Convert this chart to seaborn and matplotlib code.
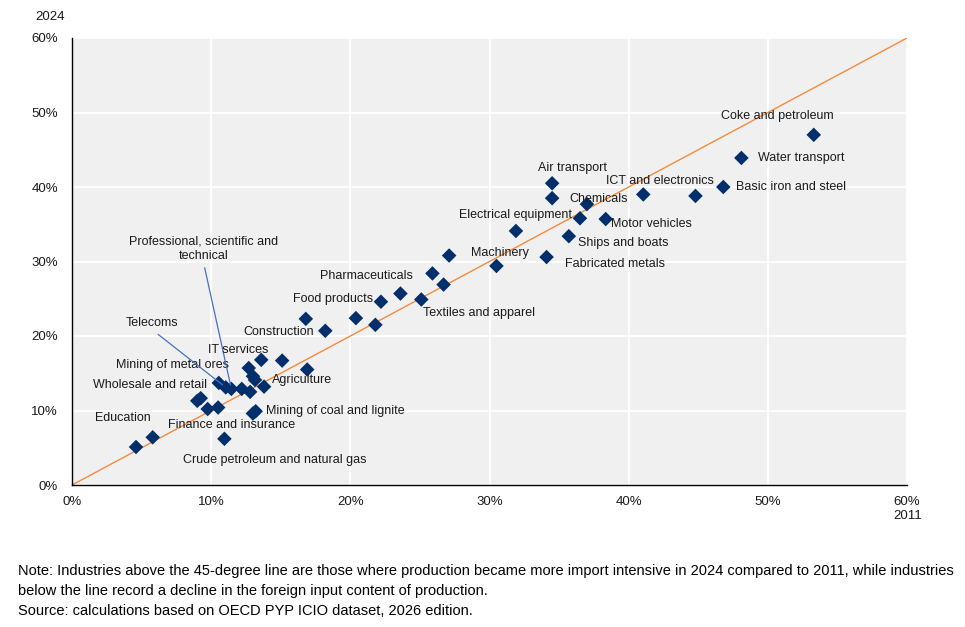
import matplotlib
matplotlib.use("Agg")
import matplotlib.pyplot as plt
import seaborn as sns
import pandas as pd
from matplotlib.ticker import PercentFormatter

# foreign input content of production, % (2011 vs 2024)
x2011 = [4.6, 5.8, 9.0, 9.25, 9.75, 10.5, 10.55, 11.05, 11.45, 12.2,
         12.8, 12.7, 13.0, 13.15, 13.6, 13.8, 15.1, 16.9, 13.0, 13.2,
         10.95, 16.8, 18.2, 20.4, 21.8, 22.2, 23.6, 25.1, 25.9, 26.7,
         27.1, 30.5, 31.9, 34.1, 34.5, 34.5, 35.7, 36.5, 37.0, 38.35,
         41.05, 44.8, 46.8, 48.1, 53.3]
y2024 = [5.1, 6.4, 11.3, 11.65, 10.2, 10.4, 13.7, 13.1, 12.9, 12.9,
         12.5, 15.7, 14.6, 14.1, 16.8, 13.2, 16.7, 15.5, 9.6, 9.9,
         6.2, 22.3, 20.7, 22.4, 21.5, 24.6, 25.7, 24.9, 28.4, 26.9,
         30.8, 29.4, 34.1, 30.6, 40.5, 38.5, 33.4, 35.8, 37.7, 35.7,
         39.0, 38.8, 40.0, 43.9, 47.0]
labels = ["Education", "", "Wholesale and retail", "", "", "Finance and insurance",
          "Mining of metal ores", "Telecoms", "Professional, scientific and\ntechnical", "",
          "", "", "", "", "IT services", "Agriculture", "", "", "Mining of coal and lignite", "",
          "Crude petroleum and natural gas", "", "Construction", "", "", "Food products", "",
          "Textiles and apparel", "Pharmaceuticals", "",
          "", "Machinery", "", "Fabricated metals", "Air transport", "", "Ships and boats",
          "Electrical equipment", "Chemicals", "Motor vehicles",
          "ICT and electronics", "", "Basic iron and steel", "Water transport", "Coke and petroleum"]

# label placement in pixels relative to the marker: dx, dy, ha, leader line
placement = {
    "Education": (-13, 29, "center", False),
    "Wholesale and retail": (10, 16, "right", False),
    "Finance and insurance": (13, -17, "center", False),
    "Mining of metal ores": (-46, 18, "center", False),
    "Telecoms": (-74, 64, "center", True),
    "Professional, scientific and\ntechnical": (-28, 140, "center", True),
    "IT services": (-23, 10, "center", False),
    "Agriculture": (8, 7, "left", False),
    "Mining of coal and lignite": (13, 2, "left", False),
    "Crude petroleum and natural gas": (50, -21, "center", False),
    "Construction": (-11, -1, "right", False),
    "Food products": (-8, 3, "right", False),
    "Textiles and apparel": (2, -14, "left", False),
    "Pharmaceuticals": (-20, -3, "right", False),
    "Machinery": (3, 13, "center", False),
    "Fabricated metals": (18, -7, "left", False),
    "Air transport": (20, 15, "center", False),
    "Ships and boats": (9, -7, "left", False),
    "Electrical equipment": (-8, 3, "right", False),
    "Chemicals": (12, 5, "center", False),
    "Motor vehicles": (5, -5, "left", False),
    "ICT and electronics": (17, 13, "center", False),
    "Basic iron and steel": (13, 0, "left", False),
    "Water transport": (17, 0, "left", False),
    "Coke and petroleum": (-36, 19, "center", False),
}

note = ("Note: Industries above the 45-degree line are those where production became more import intensive in 2024 compared to 2011, while industries\n"
        "below the line record a decline in the foreign input content of production.\n"
        "Source: calculations based on OECD PYP ICIO dataset, 2026 edition.")

df = pd.DataFrame({"x": x2011, "y": y2024, "label": labels})

sns.set_style("white")
plt.rcParams["font.family"] = ["Liberation Sans Narrow", "Liberation Sans", "DejaVu Sans"]
plt.rcParams["font.size"] = 9.5

fig = plt.figure(figsize=(9.65, 6.27), dpi=100)
ax = fig.add_axes([72 / 965, 1 - 485 / 627, 835 / 965, 447 / 627])
ax.set_facecolor("#F0F0F0")

ax.plot([0, 60], [0, 60], color="#F58A3C", lw=1.0, zorder=2)
sns.scatterplot(data=df, x="x", y="y", marker="D", s=55, color="#002F6C",
                edgecolor="none", ax=ax, zorder=3)

for _, r in df.iterrows():
    if not r["label"]:
        continue
    dx, dy, ha, lead = placement[r["label"]]
    if lead:
        ax.annotate(r["label"], (r["x"], r["y"]), xytext=(dx, dy), textcoords="offset pixels",
                    ha=ha, va="center", fontsize=9, color="#1a1a1a", zorder=4,
                    arrowprops=dict(arrowstyle="-", color="#4472C4", lw=0.9,
                                    shrinkA=2, shrinkB=3, relpos=(0.5, 0)))
    else:
        ax.annotate(r["label"], (r["x"], r["y"]), xytext=(dx, dy), textcoords="offset pixels",
                    ha=ha, va="center", fontsize=9, color="#1a1a1a", zorder=4)

ax.set_xlim(0, 60)
ax.set_ylim(0, 60)
ax.set_xticks(range(0, 61, 10))
ax.set_yticks(range(0, 61, 10))
ax.xaxis.set_major_formatter(PercentFormatter(decimals=0))
ax.yaxis.set_major_formatter(PercentFormatter(decimals=0))
ax.grid(True, color="white", lw=1.3)
ax.set_axisbelow(True)
for side in ["top", "right"]:
    ax.spines[side].set_visible(False)
for side in ["left", "bottom"]:
    ax.spines[side].set_color("black")
    ax.spines[side].set_linewidth(1.0)
ax.tick_params(axis="both", direction="in", length=4, width=1, color="black",
               labelsize=9.5, labelcolor="#1a1a1a")
ax.tick_params(axis="y", pad=10)
ax.tick_params(axis="x", pad=8)
ax.set_xlabel("")
ax.set_ylabel("")

fig.text(50 / 965, 1 - 17 / 627, "2024", ha="center", va="center", fontsize=9.5, color="#1a1a1a")
fig.text(908 / 965, 1 - 516 / 627, "2011", ha="center", va="center", fontsize=9.5, color="#1a1a1a")
fig.text(18 / 965, 1 - 564 / 627, note, ha="left", va="top", fontsize=10.5,
         linespacing=1.55, color="black")

fig.savefig("out.png", dpi=100)
